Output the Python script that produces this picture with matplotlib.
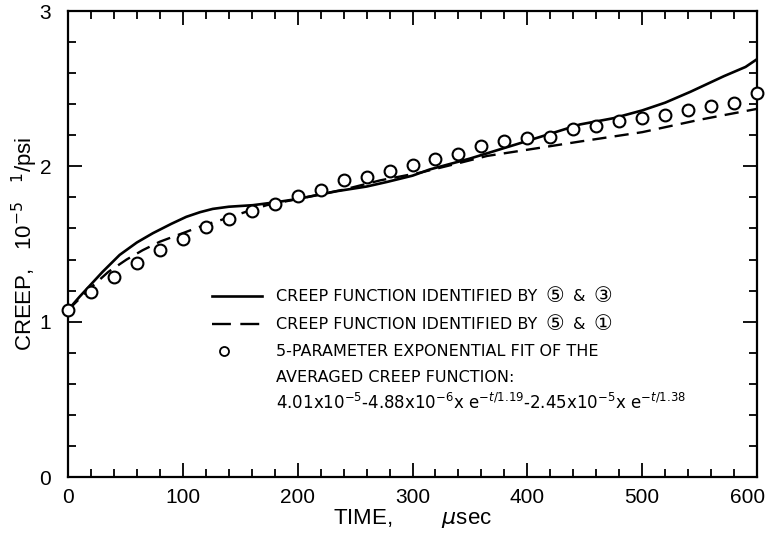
import matplotlib
matplotlib.use("Agg")
import matplotlib.pyplot as plt
import matplotlib.ticker as mticker
import matplotlib.transforms as mtransforms
from matplotlib.lines import Line2D

# Averaged creep function fit (open circles), 1e-5 1/psi
FIT_T = [0, 20, 40, 60, 80, 100, 120, 140, 160, 180, 200, 220, 240, 260, 280, 300,
         320, 340, 360, 380, 400, 420, 440, 460, 480, 500, 520, 540, 560, 580, 600]
FIT_CREEP = [1.075, 1.19, 1.29, 1.38, 1.46, 1.53, 1.61, 1.66, 1.71, 1.76, 1.81, 1.85,
             1.91, 1.93, 1.97, 2.01, 2.05, 2.08, 2.13, 2.16, 2.18, 2.19, 2.24, 2.26,
             2.29, 2.31, 2.33, 2.36, 2.39, 2.41, 2.47]

# Creep function identified by 5 & 3 (solid)
SOLID_T = [0, 10, 20, 30, 45, 60, 74, 90, 103, 115, 126, 140, 161, 182, 200, 234,
           260, 278, 300, 315, 350, 394, 420, 446, 475, 500, 520, 542, 571, 590, 600]
SOLID_CREEP = [1.075, 1.16, 1.24, 1.32, 1.43, 1.51, 1.57, 1.63, 1.675, 1.705, 1.726,
               1.74, 1.75, 1.77, 1.79, 1.84, 1.87, 1.90, 1.94, 1.98, 2.05, 2.15, 2.21,
               2.27, 2.31, 2.36, 2.41, 2.48, 2.58, 2.64, 2.69]

# Creep function identified by 5 & 1 (dashed)
DASH_T = [0, 20, 35, 51, 65, 80, 100, 118, 140, 156, 173, 200, 240, 272, 307, 340,
          365, 408, 446, 500, 550, 600]
DASH_CREEP = [1.075, 1.22, 1.32, 1.40, 1.46, 1.515, 1.57, 1.62, 1.67, 1.71, 1.75,
              1.79, 1.85, 1.91, 1.96, 2.02, 2.067, 2.116, 2.16, 2.22, 2.30, 2.37]

X_TICKS = [0, 100, 200, 300, 400, 500, 600]
Y_TICKS = [0, 1, 2, 3]

KEY_TEXT = "CREEP FUNCTION IDENTIFIED BY"
KEY_SOLID_IDS = ("\u2464", "\u2462")
KEY_DASH_IDS = ("\u2464", "\u2460")
LABEL_FIT = ["5-PARAMETER EXPONENTIAL FIT OF THE",
             "AVERAGED CREEP FUNCTION:",
             r"4.01x10$^{-5}$-4.88x10$^{-6}$x e$^{-t/1.19}$-2.45x10$^{-5}$x e$^{-t/1.38}$"]

NARROW = ["Liberation Sans Narrow", "DejaVu Sans"]
INK = "black"

plt.rcParams["font.family"] = ["Liberation Sans", "DejaVu Sans"]
plt.rcParams["mathtext.fontset"] = "dejavusans"

fig = plt.figure(figsize=(7.71, 5.37), dpi=100)
ax = fig.add_axes([0.0882, 0.1117, 0.8937, 0.8678])

ax.plot(SOLID_T, SOLID_CREEP, color=INK, linewidth=1.9, solid_capstyle="round")
ax.plot(DASH_T, DASH_CREEP, color=INK, linewidth=1.7, dashes=(6, 3.5))
ax.plot(FIT_T, FIT_CREEP, linestyle="none", marker="o", markersize=8.5,
        markerfacecolor="white", markeredgecolor=INK, markeredgewidth=1.5,
        clip_on=False, zorder=5)

ax.set_xlim(0, 600)
ax.set_ylim(0, 3)
ax.set_xticks(X_TICKS)
ax.set_yticks(Y_TICKS)
ax.xaxis.set_minor_locator(mticker.MultipleLocator(20))
ax.yaxis.set_minor_locator(mticker.MultipleLocator(0.2))
ax.tick_params(which="both", direction="in", top=True, right=True, color=INK, width=1.3)
ax.tick_params(which="major", length=10, labelsize=15, pad=8)
ax.tick_params(which="minor", length=5.5)
ax.tick_params(axis="y", which="major", pad=12)
for s in ax.spines.values():
    s.set_linewidth(1.6)

# last x label sits left of its tick so it stays inside the page
last = ax.get_xticklabels()[-1]
last.set_horizontalalignment("right")
last.set_transform(last.get_transform() +
                   mtransforms.ScaledTranslation(6 / 72, 0, fig.dpi_scale_trans))

ax.set_xlabel(r"TIME,        $\mu$sec", fontsize=16, labelpad=0)
ax.set_ylabel(r"CREEP,   10$^{-5}$   $^{1}$/psi", fontsize=16, labelpad=0)

# hand-drawn style key inside the axes
tr = ax.transAxes
ax.add_line(Line2D([0.209, 0.282], [0.388, 0.388], transform=tr, color=INK, linewidth=1.9))
ax.add_line(Line2D([0.209, 0.282], [0.328, 0.328], transform=tr, color=INK,
                   linewidth=1.7, dashes=(8, 4)))
ax.add_line(Line2D([0.226], [0.270], transform=tr, linestyle="none", marker="o",
                   markersize=6.5, markerfacecolor="white", markeredgecolor=INK,
                   markeredgewidth=1.3))
kw = dict(fontsize=11.5, family=NARROW, va="center", ha="left", color=INK)
idkw = dict(kw, fontsize=15, family=["DejaVu Sans"])
for y, ids in ((0.388, KEY_SOLID_IDS), (0.328, KEY_DASH_IDS)):
    t0 = ax.text(0.302, y, KEY_TEXT, transform=tr, **kw)
    t1 = ax.annotate(ids[0], xy=(1, 0.5), xycoords=t0, xytext=(6, 0),
                     textcoords="offset points", **idkw)
    t2 = ax.annotate("&", xy=(1, 0.5), xycoords=t1, xytext=(6, 0),
                     textcoords="offset points", **kw)
    ax.annotate(ids[1], xy=(1, 0.5), xycoords=t2, xytext=(6, 0),
                textcoords="offset points", **idkw)
ax.text(0.302, 0.270, LABEL_FIT[0], transform=tr, **kw)
ax.text(0.302, 0.2146, LABEL_FIT[1], transform=tr, **kw)
ax.text(0.302, 0.160, LABEL_FIT[2], transform=tr, **dict(kw, fontsize=12))

fig.savefig("out.png", dpi=100, facecolor="white")
